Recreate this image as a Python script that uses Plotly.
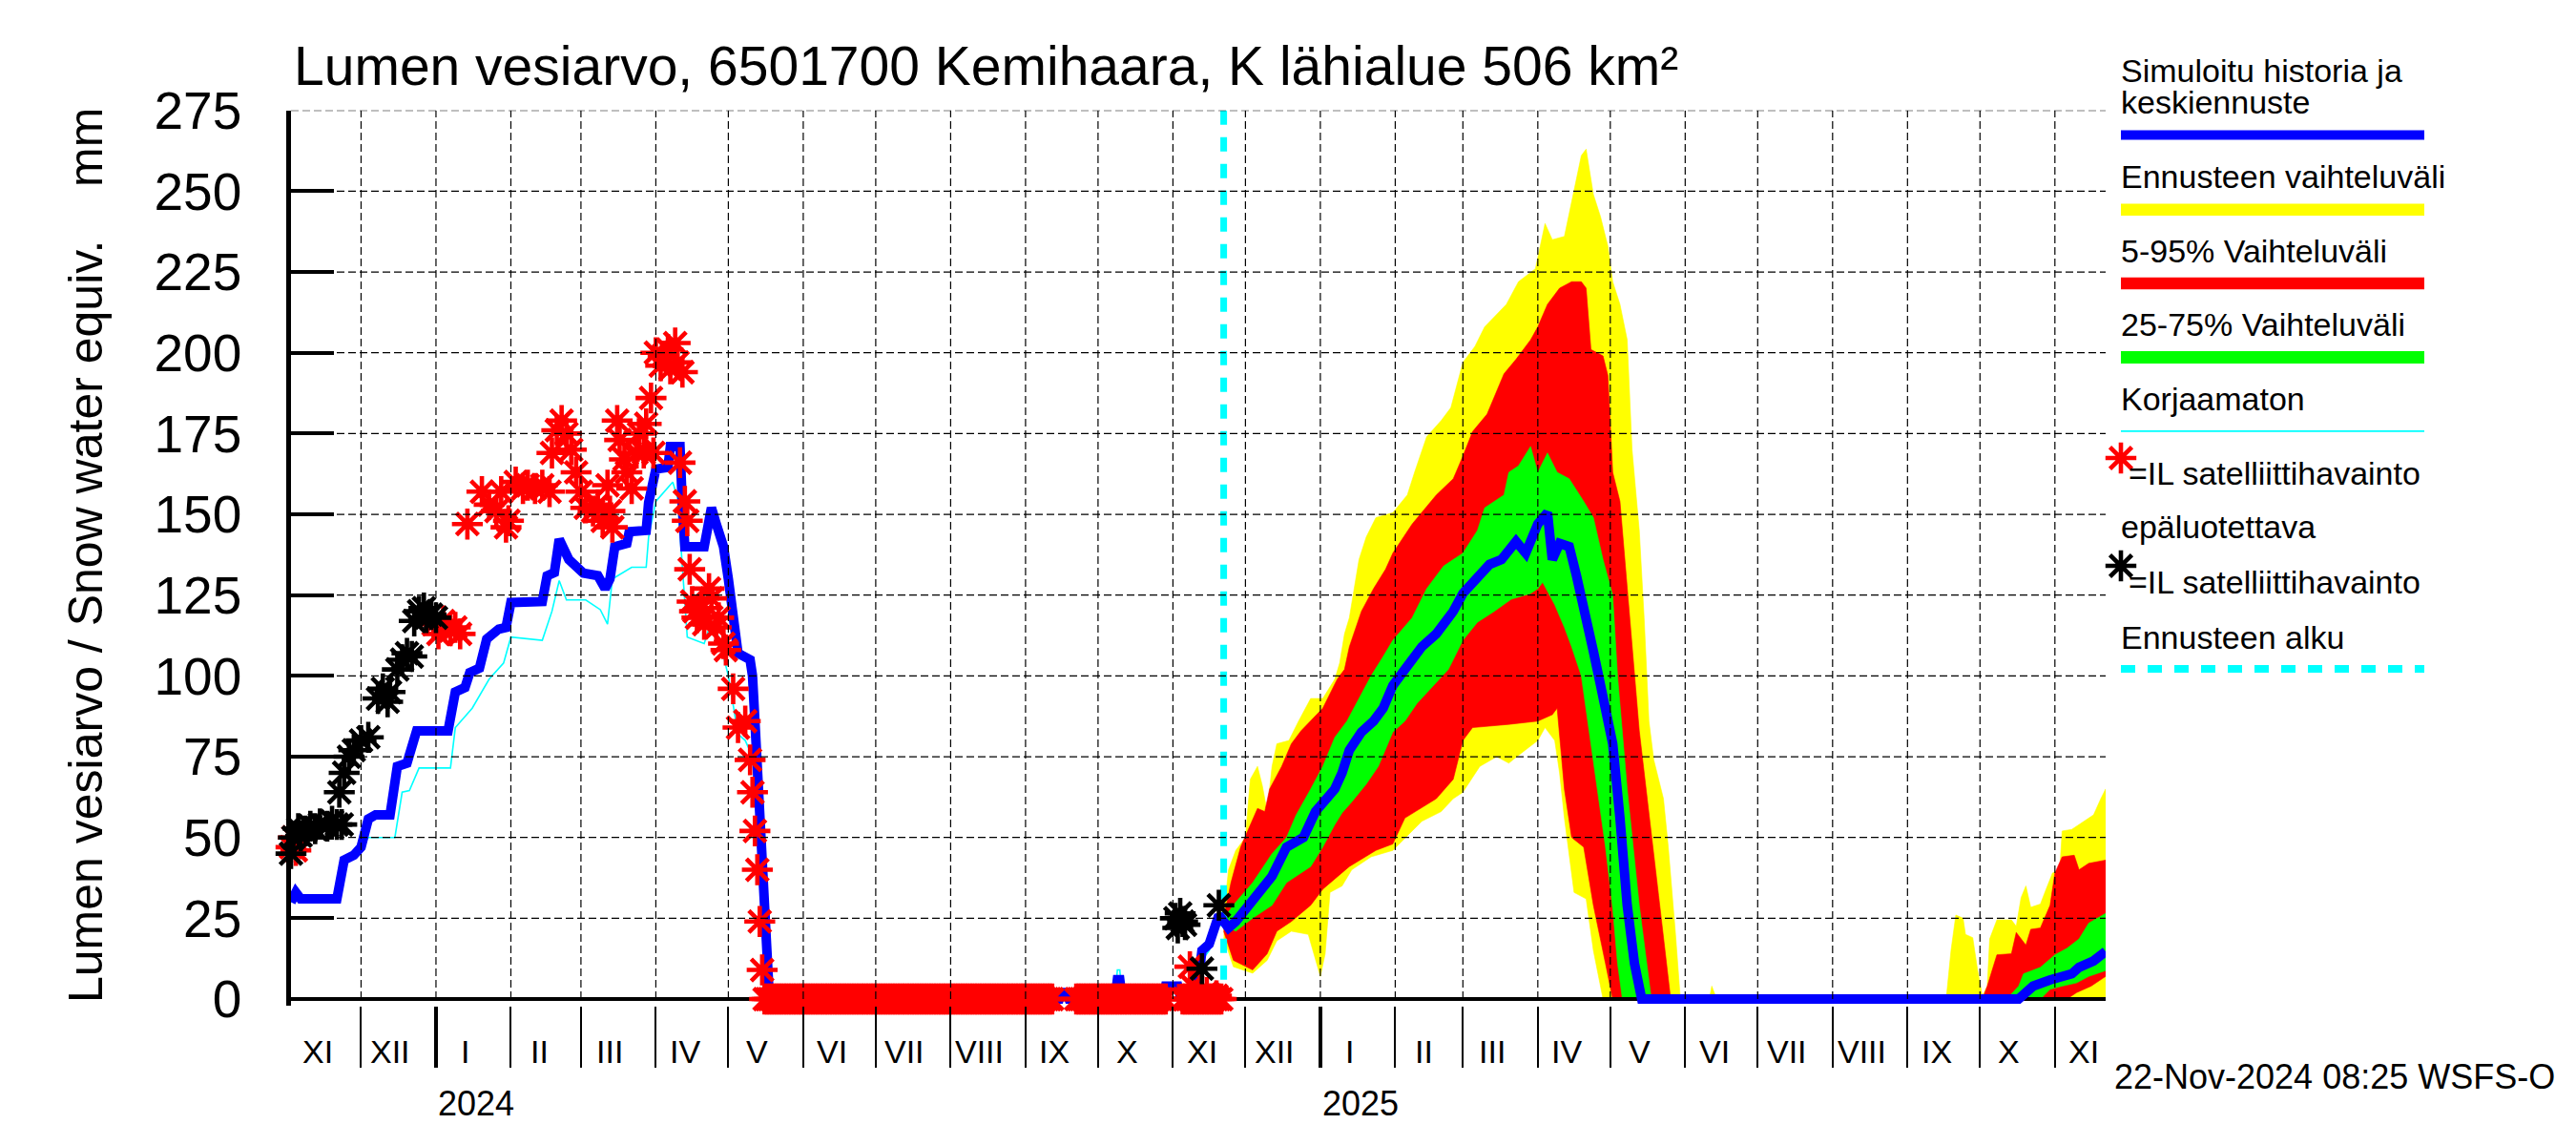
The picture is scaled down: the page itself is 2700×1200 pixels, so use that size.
import plotly.graph_objects as go
import pandas as pd

W, H = 2700, 1200

# ---------------- data ----------------
x_start = "2023-11-02"
x_end = "2025-11-22"
forecast_start = "2024-11-22"
y_ticks = [0, 25, 50, 75, 100, 125, 150, 175, 200, 225, 250, 275]
roman = ["I", "II", "III", "IV", "V", "VI", "VII", "VIII", "IX", "X", "XI", "XII"]
year_labels = ["2024", "2025"]
title_text = "Lumen vesiarvo, 6501700 Kemihaara, K lähialue 506 km²"
ytitle_text = "Lumen vesiarvo / Snow water equiv." + "\u00a0" * 4 + "mm"
stamp_text = "22-Nov-2024 08:25 WSFS-O"

# simulated history (blue)
sim_hist = [
    ("2023-11-02", 30), ("2023-11-04", 33), ("2023-11-06", 31), ("2023-11-21", 31),
    ("2023-11-24", 43), ("2023-11-28", 44.5), ("2023-12-01", 47), ("2023-12-04", 55.7),
    ("2023-12-07", 57), ("2023-12-13", 57), ("2023-12-16", 72), ("2023-12-20", 73),
    ("2023-12-24", 83), ("2024-01-06", 83), ("2024-01-09", 95), ("2024-01-13", 96.4),
    ("2024-01-15", 101), ("2024-01-19", 102.4), ("2024-01-22", 111.4), ("2024-01-27", 114.5),
    ("2024-01-30", 115), ("2024-02-01", 122.7), ("2024-02-14", 123), ("2024-02-16", 131),
    ("2024-02-19", 132), ("2024-02-21", 142.3), ("2024-02-25", 136), ("2024-03-02", 131.8),
    ("2024-03-08", 131), ("2024-03-11", 127), ("2024-03-13", 130), ("2024-03-15", 140),
    ("2024-03-20", 141), ("2024-03-21", 144.6), ("2024-03-28", 145), ("2024-03-29", 153.6),
    ("2024-04-01", 164), ("2024-04-06", 164.5), ("2024-04-07", 171), ("2024-04-11", 171),
    ("2024-04-12", 152), ("2024-04-13", 140), ("2024-04-21", 140), ("2024-04-24", 152),
    ("2024-04-26", 147), ("2024-04-29", 140), ("2024-05-01", 130), ("2024-05-03", 118),
    ("2024-05-05", 107), ("2024-05-10", 105), ("2024-05-11", 100), ("2024-05-12", 86),
    ("2024-05-13", 70), ("2024-05-14", 55), ("2024-05-15", 34), ("2024-05-16", 18),
    ("2024-05-17", 8), ("2024-05-18", 0), ("2024-09-15", 0), ("2024-09-16", 2),
    ("2024-09-18", 2), ("2024-09-19", 0), ("2024-10-08", 0), ("2024-10-09", 6),
    ("2024-10-10", 6), ("2024-10-11", 0), ("2024-10-28", 0), ("2024-10-29", 4),
    ("2024-11-03", 4), ("2024-11-04", 1), ("2024-11-11", 2), ("2024-11-13", 15),
    ("2024-11-16", 17), ("2024-11-18", 22), ("2024-11-20", 26), ("2024-11-22", 24),
]

# uncorrected simulation (thin cyan)
uncorrected = [
    ("2023-11-02", 30), ("2023-11-04", 32), ("2023-11-06", 31), ("2023-11-21", 31),
    ("2023-11-24", 42), ("2023-11-28", 44), ("2023-12-04", 50), ("2023-12-15", 50),
    ("2023-12-18", 64), ("2023-12-21", 64.5), ("2023-12-25", 71.5), ("2024-01-07", 71.5),
    ("2024-01-09", 84), ("2024-01-16", 90), ("2024-01-23", 99), ("2024-01-29", 104),
    ("2024-02-01", 112), ("2024-02-14", 111), ("2024-02-18", 120), ("2024-02-21", 129.5),
    ("2024-02-24", 123.5), ("2024-03-03", 123.5), ("2024-03-09", 120.5), ("2024-03-12", 116),
    ("2024-03-14", 130), ("2024-03-22", 133.6), ("2024-03-28", 133.6), ("2024-03-29", 143),
    ("2024-04-01", 154), ("2024-04-08", 160), ("2024-04-10", 155), ("2024-04-12", 135),
    ("2024-04-14", 112), ("2024-04-21", 110), ("2024-04-24", 117), ("2024-04-27", 112),
    ("2024-05-01", 100), ("2024-05-05", 82), ("2024-05-08", 80), ("2024-05-11", 75),
    ("2024-05-13", 55), ("2024-05-15", 32), ("2024-05-17", 8), ("2024-05-18", 0),
    ("2024-09-15", 0), ("2024-09-16", 1.5), ("2024-09-18", 1.5), ("2024-09-19", 0),
    ("2024-10-08", 0), ("2024-10-09", 9), ("2024-10-10", 9), ("2024-10-11", 0),
    ("2024-10-28", 0), ("2024-10-29", 3), ("2024-11-03", 3), ("2024-11-04", 1),
    ("2024-11-11", 1), ("2024-11-13", 12), ("2024-11-16", 15), ("2024-11-18", 20),
    ("2024-11-20", 24), ("2024-11-22", 23),
]

# forecast mean (blue)
fc_mean = [
    ("2024-11-22", 24), ("2024-11-24", 22), ("2024-11-27", 24), ("2024-12-04", 31),
    ("2024-12-12", 38), ("2024-12-18", 47), ("2024-12-25", 50), ("2024-12-30", 58),
    ("2025-01-02", 61), ("2025-01-07", 65), ("2025-01-10", 70), ("2025-01-13", 77),
    ("2025-01-18", 82.6), ("2025-01-23", 86), ("2025-01-27", 90), ("2025-01-31", 97),
    ("2025-02-05", 102), ("2025-02-12", 109), ("2025-02-18", 113), ("2025-02-25", 120),
    ("2025-03-01", 125.5), ("2025-03-07", 131), ("2025-03-12", 134.5), ("2025-03-17", 136),
    ("2025-03-23", 141.6), ("2025-03-27", 138), ("2025-03-30", 143), ("2025-04-01", 147),
    ("2025-04-05", 150.5), ("2025-04-07", 136), ("2025-04-10", 141), ("2025-04-14", 140),
    ("2025-04-17", 131), ("2025-04-20", 122), ("2025-04-24", 107.6), ("2025-04-27", 97),
    ("2025-04-29", 90), ("2025-05-02", 79), ("2025-05-05", 56), ("2025-05-08", 29),
    ("2025-05-11", 11), ("2025-05-14", 0), ("2025-10-17", 0), ("2025-10-20", 2),
    ("2025-10-23", 4), ("2025-10-30", 5.9), ("2025-11-03", 6.9), ("2025-11-08", 7.8),
    ("2025-11-11", 9.8), ("2025-11-17", 11.8), ("2025-11-22", 14.7),
]

# forecast range: maximum / minimum (yellow)
fc_max = [
    ("2024-11-22", 26), ("2024-11-24", 40), ("2024-11-27", 46), ("2024-12-01", 50),
    ("2024-12-03", 68), ("2024-12-06", 72), ("2024-12-08", 66), ("2024-12-10", 58),
    ("2024-12-12", 72), ("2024-12-14", 79), ("2024-12-19", 80), ("2024-12-23", 86),
    ("2024-12-28", 93), ("2025-01-02", 93), ("2025-01-07", 99), ("2025-01-09", 104),
    ("2025-01-11", 113), ("2025-01-13", 118), ("2025-01-15", 127), ("2025-01-17", 136),
    ("2025-01-20", 143), ("2025-01-24", 149), ("2025-01-31", 150.5), ("2025-02-06", 156),
    ("2025-02-09", 163), ("2025-02-14", 174), ("2025-02-20", 179), ("2025-02-24", 183),
    ("2025-03-01", 197), ("2025-03-06", 202), ("2025-03-10", 208), ("2025-03-14", 211),
    ("2025-03-19", 215), ("2025-03-24", 222), ("2025-03-31", 226), ("2025-04-04", 240),
    ("2025-04-07", 235), ("2025-04-12", 236), ("2025-04-15", 247), ("2025-04-19", 261),
    ("2025-04-21", 263), ("2025-04-24", 249), ("2025-04-27", 242), ("2025-04-30", 233),
    ("2025-05-02", 222), ("2025-05-05", 215), ("2025-05-08", 204), ("2025-05-10", 170),
    ("2025-05-13", 145), ("2025-05-15", 118), ("2025-05-17", 86), ("2025-05-19", 74),
    ("2025-05-23", 62), ("2025-05-25", 47), ("2025-05-28", 20), ("2025-05-30", 0),
    ("2025-06-11", 0), ("2025-06-12", 4), ("2025-06-14", 0), ("2025-09-17", 0),
    ("2025-09-19", 15), ("2025-09-21", 26), ("2025-09-24", 25), ("2025-09-25", 20),
    ("2025-09-28", 19), ("2025-09-30", 9), ("2025-10-02", 1), ("2025-10-04", 4),
    ("2025-10-05", 18.6), ("2025-10-08", 24.5), ("2025-10-14", 24.5), ("2025-10-16", 22.5),
    ("2025-10-18", 31.4), ("2025-10-20", 35), ("2025-10-22", 28.4), ("2025-10-26", 29.4),
    ("2025-10-28", 33.3), ("2025-10-31", 39), ("2025-11-03", 40), ("2025-11-04", 52),
    ("2025-11-08", 52.5), ("2025-11-11", 54), ("2025-11-15", 56), ("2025-11-17", 57),
    ("2025-11-20", 62), ("2025-11-22", 65),
]
fc_min = [
    ("2024-11-22", 19), ("2024-11-26", 10), ("2024-12-04", 8), ("2024-12-10", 12),
    ("2024-12-14", 18), ("2024-12-20", 21), ("2024-12-27", 20), ("2024-12-30", 12),
    ("2025-01-01", 7), ("2025-01-03", 14), ("2025-01-05", 33), ("2025-01-10", 35),
    ("2025-01-14", 40), ("2025-01-22", 44), ("2025-01-31", 46), ("2025-02-12", 55),
    ("2025-02-20", 58), ("2025-02-25", 62), ("2025-03-01", 64), ("2025-03-08", 72),
    ("2025-03-15", 75), ("2025-03-20", 73), ("2025-03-25", 76), ("2025-04-01", 80),
    ("2025-04-04", 84), ("2025-04-08", 80), ("2025-04-10", 70), ("2025-04-12", 56),
    ("2025-04-16", 33), ("2025-04-21", 31), ("2025-04-24", 15), ("2025-04-28", 0),
    ("2025-11-22", 0),
]

# 5-95 % range (red)
fc_p95 = [
    ("2024-11-22", 25), ("2024-11-25", 36), ("2024-11-29", 47), ("2024-12-03", 54),
    ("2024-12-06", 59), ("2024-12-09", 58), ("2024-12-11", 65), ("2024-12-16", 72),
    ("2024-12-20", 79), ("2024-12-24", 83), ("2024-12-28", 86), ("2025-01-02", 90),
    ("2025-01-08", 99), ("2025-01-11", 102), ("2025-01-13", 109), ("2025-01-18", 120),
    ("2025-01-23", 127), ("2025-01-28", 133), ("2025-01-31", 138), ("2025-02-08", 147),
    ("2025-02-18", 156), ("2025-02-25", 161), ("2025-03-01", 168), ("2025-03-05", 175.6),
    ("2025-03-11", 181), ("2025-03-15", 188), ("2025-03-18", 193.5), ("2025-03-23", 198),
    ("2025-03-29", 204), ("2025-04-01", 208), ("2025-04-05", 215), ("2025-04-10", 220),
    ("2025-04-15", 222), ("2025-04-19", 222), ("2025-04-21", 220), ("2025-04-23", 201),
    ("2025-04-28", 199), ("2025-04-30", 193), ("2025-05-02", 163), ("2025-05-05", 154),
    ("2025-05-08", 127), ("2025-05-13", 83), ("2025-05-21", 32), ("2025-05-26", 0),
    ("2025-10-02", 0), ("2025-10-04", 4), ("2025-10-08", 13.7), ("2025-10-14", 14),
    ("2025-10-16", 20.6), ("2025-10-20", 16.7), ("2025-10-22", 21.6), ("2025-10-26", 22),
    ("2025-10-30", 29), ("2025-11-01", 39), ("2025-11-04", 44), ("2025-11-09", 44.5),
    ("2025-11-11", 40), ("2025-11-15", 42), ("2025-11-22", 43),
]
fc_p05 = [
    ("2024-11-22", 21), ("2024-11-26", 12), ("2024-12-04", 9), ("2024-12-10", 14),
    ("2024-12-14", 21), ("2024-12-20", 24), ("2024-12-28", 29), ("2025-01-02", 34),
    ("2025-01-13", 41), ("2025-01-24", 46), ("2025-01-31", 48), ("2025-02-05", 56),
    ("2025-02-18", 62), ("2025-02-25", 68), ("2025-03-01", 80), ("2025-03-05", 84),
    ("2025-03-20", 85), ("2025-04-01", 86), ("2025-04-07", 88), ("2025-04-09", 90),
    ("2025-04-12", 65), ("2025-04-15", 50), ("2025-04-20", 47), ("2025-04-24", 29),
    ("2025-04-29", 11), ("2025-05-02", 0), ("2025-11-06", 0), ("2025-11-10", 2),
    ("2025-11-16", 4), ("2025-11-22", 7),
]

# 25-75 % range (green)
fc_p75 = [
    ("2024-11-22", 25), ("2024-11-27", 30), ("2024-12-04", 36), ("2024-12-12", 45),
    ("2024-12-18", 50), ("2024-12-22", 57), ("2024-12-28", 65), ("2025-01-02", 72),
    ("2025-01-07", 81), ("2025-01-12", 86), ("2025-01-17", 93), ("2025-01-22", 100),
    ("2025-01-27", 106), ("2025-01-31", 111), ("2025-02-08", 118), ("2025-02-14", 127),
    ("2025-02-21", 134), ("2025-03-01", 138), ("2025-03-07", 145), ("2025-03-10", 152),
    ("2025-03-18", 156), ("2025-03-20", 163), ("2025-03-24", 165), ("2025-03-29", 171),
    ("2025-04-01", 163), ("2025-04-05", 169), ("2025-04-09", 163), ("2025-04-14", 161),
    ("2025-04-20", 154), ("2025-04-24", 149), ("2025-04-28", 136), ("2025-05-02", 125),
    ("2025-05-04", 100), ("2025-05-08", 65), ("2025-05-13", 29), ("2025-05-18", 0),
    ("2025-10-12", 0), ("2025-10-17", 4), ("2025-10-19", 7.8), ("2025-10-26", 9.8),
    ("2025-11-01", 13.7), ("2025-11-06", 15.7), ("2025-11-11", 18.6), ("2025-11-15", 23.5),
    ("2025-11-22", 26.5),
]
fc_p25 = [
    ("2024-11-22", 23), ("2024-11-27", 21), ("2024-12-04", 25), ("2024-12-12", 29),
    ("2024-12-18", 36), ("2024-12-28", 41), ("2025-01-02", 47), ("2025-01-07", 54),
    ("2025-01-10", 57.6), ("2025-01-14", 61), ("2025-01-20", 66.5), ("2025-01-25", 72),
    ("2025-01-31", 82.6), ("2025-02-05", 86), ("2025-02-10", 91.5), ("2025-02-17", 97),
    ("2025-02-23", 102), ("2025-03-01", 111), ("2025-03-07", 116.6), ("2025-03-14", 120),
    ("2025-03-21", 123.7), ("2025-03-29", 125.5), ("2025-04-01", 127), ("2025-04-03", 129),
    ("2025-04-08", 122), ("2025-04-12", 115), ("2025-04-15", 109), ("2025-04-19", 100),
    ("2025-04-22", 85), ("2025-04-25", 68), ("2025-04-29", 47), ("2025-05-02", 28),
    ("2025-05-04", 11), ("2025-05-06", 0), ("2025-10-26", 0), ("2025-10-30", 3),
    ("2025-11-04", 4), ("2025-11-10", 5), ("2025-11-15", 7), ("2025-11-22", 8.8),
]

# satellite observations, unreliable (red asterisks)
obs_unreliable = [
    ("2023-11-02", 47), ("2023-11-03", 50), ("2023-11-04", 46),
    ("2023-12-31", 116), ("2024-01-02", 113), ("2024-01-04", 117), ("2024-01-07", 114),
    ("2024-01-09", 115), ("2024-01-11", 113), ("2024-01-14", 147), ("2024-01-20", 157),
    ("2024-01-23", 153), ("2024-01-26", 151), ("2024-01-28", 157), ("2024-01-30", 146),
    ("2024-01-31", 148), ("2024-02-03", 160), ("2024-02-06", 158), ("2024-02-08", 159),
    ("2024-02-11", 158), ("2024-02-14", 159), ("2024-02-17", 157), ("2024-02-18", 169),
    ("2024-02-20", 176), ("2024-02-22", 179), ("2024-02-24", 175), ("2024-02-26", 170),
    ("2024-02-28", 163), ("2024-03-01", 157), ("2024-03-03", 152), ("2024-03-06", 151),
    ("2024-03-08", 153), ("2024-03-10", 148), ("2024-03-12", 159), ("2024-03-13", 151),
    ("2024-03-14", 146), ("2024-03-16", 179), ("2024-03-17", 173), ("2024-03-19", 167),
    ("2024-03-20", 163), ("2024-03-22", 158), ("2024-03-24", 169), ("2024-03-25", 175),
    ("2024-03-27", 169), ("2024-03-28", 178), ("2024-03-30", 186), ("2024-03-31", 169),
    ("2024-04-01", 200), ("2024-04-03", 196), ("2024-04-04", 199), ("2024-04-06", 201),
    ("2024-04-07", 195), ("2024-04-09", 203), ("2024-04-10", 197), ("2024-04-11", 166),
    ("2024-04-12", 194), ("2024-04-13", 154), ("2024-04-14", 148), ("2024-04-15", 133),
    ("2024-04-16", 123), ("2024-04-17", 120), ("2024-04-18", 118), ("2024-04-20", 121),
    ("2024-04-21", 116), ("2024-04-23", 127), ("2024-04-24", 124), ("2024-04-26", 115),
    ("2024-04-27", 118), ("2024-04-29", 110), ("2024-04-30", 108), ("2024-05-03", 96),
    ("2024-05-05", 84), ("2024-05-08", 86), ("2024-05-10", 74), ("2024-05-11", 64),
    ("2024-05-12", 52), ("2024-05-13", 40), ("2024-05-14", 24), ("2024-05-15", 9),
    ("2024-11-08", 10), ("2024-11-09", 4), ("2024-11-15", 2), ("2024-11-19", 1),
]
# periods in which the unreliable observation is 0 every day
obs_unreliable_zero_periods = [
    ("2024-05-16", "2024-09-12"), ("2024-09-22", "2024-10-29"), ("2024-11-05", "2024-11-21"),
]

# satellite observations (black asterisks)
obs_reliable = [
    ("2023-11-02", 45), ("2023-11-03", 50), ("2023-11-05", 52.7), ("2023-11-06", 50.5),
    ("2023-11-08", 52), ("2023-11-10", 53.5), ("2023-11-12", 52.7), ("2023-11-14", 54.2),
    ("2023-11-17", 53.5), ("2023-11-19", 55), ("2023-11-21", 54), ("2023-11-22", 64),
    ("2023-11-23", 54), ("2023-11-24", 70), ("2023-11-26", 75), ("2023-11-28", 77),
    ("2023-12-01", 80), ("2023-12-04", 81), ("2023-12-08", 93), ("2023-12-10", 96),
    ("2023-12-12", 92), ("2023-12-13", 95), ("2023-12-16", 102), ("2023-12-18", 105),
    ("2023-12-20", 107), ("2023-12-22", 106), ("2023-12-23", 117), ("2023-12-25", 120),
    ("2023-12-27", 121), ("2023-12-28", 118), ("2023-12-30", 119), ("2024-01-01", 118),
    ("2024-11-02", 25), ("2024-11-03", 22), ("2024-11-04", 26.5), ("2024-11-05", 24),
    ("2024-11-06", 23), ("2024-11-13", 9.4), ("2024-11-20", 29),
]

legend_texts = [
    "Simuloitu historia ja", "keskiennuste", "Ennusteen vaihteluväli", "5-95% Vaihteluväli",
    "25-75% Vaihteluväli", "Korjaamaton", "=IL satelliittihavainto", "epäluotettava",
    "=IL satelliittihavainto", "Ennusteen alku",
]

# ---------------- styling ----------------
YELLOW, RED, GREEN, BLUE, CYAN = "#FFFF00", "#FF0000", "#00FF00", "#0000FF", "#00FFFF"
SANS = "Liberation Sans, Arial, sans-serif"

# all layout positions below are page pixels; the figure sits 8 px in from the page corner
OFF = 8
PL, PR, PT, PB = 305, 2207, 115.7, 1053.8   # plot rectangle


def fx(px):
    return (px - OFF) / W


def fy(py):
    return 1 - (py - OFF) / H


def unzip(pairs):
    return [p[0] for p in pairs], [p[1] for p in pairs]


fig = go.Figure()


def band(upper, lower, color):
    ud, uv = unzip(upper)
    ld, lv = unzip(lower)
    fig.add_trace(go.Scatter(
        x=ud + ld[::-1], y=uv + lv[::-1], mode="lines", fill="toself",
        fillcolor=color, line=dict(width=0.6, color=color), hoverinfo="skip"))


band(fc_max, fc_min, YELLOW)
band(fc_p95, fc_p05, RED)
band(fc_p75, fc_p25, GREEN)

# x axis base line (above the bands, below the curves)
fig.add_trace(go.Scatter(x=[x_start, x_end], y=[0, 0], mode="lines",
                         line=dict(color="black", width=4), hoverinfo="skip"))

ud, uv = unzip(uncorrected)
fig.add_trace(go.Scatter(x=ud, y=uv, mode="lines", line=dict(color=CYAN, width=1.6)))

fig.add_trace(go.Scatter(x=[forecast_start, forecast_start], y=[y_ticks[-1], 0], mode="lines",
                         line=dict(color=CYAN, width=7, dash="15px,13px")))

sd, sv = unzip(sim_hist)
md, mv = unzip(fc_mean)
fig.add_trace(go.Scatter(x=sd + md[1:], y=sv + mv[1:], mode="lines",
                         line=dict(color=BLUE, width=10)))

rd, rv = unzip(obs_unreliable)
for a, b in obs_unreliable_zero_periods:
    for d in pd.date_range(a, b, freq="D"):
        rd.append(d.strftime("%Y-%m-%d"))
        rv.append(0)
star = dict(symbol="asterisk-open", size=27)
fig.add_trace(go.Scatter(x=rd, y=rv, mode="markers", cliponaxis=False,
                         marker=dict(**star, color=RED, line=dict(color=RED, width=4.6))))
bd, bv = unzip(obs_reliable)
fig.add_trace(go.Scatter(x=bd, y=bv, mode="markers", cliponaxis=False,
                         marker=dict(**star, color="black", line=dict(color="black", width=4.6))))

# dummy trace so the overlay axis (year ticks) is drawn
fig.add_trace(go.Scatter(x=[x_start], y=[-100], xaxis="x2", mode="markers",
                         marker=dict(opacity=0), hoverinfo="skip"))

# legend asterisks on a page-pixel axis pair
fig.add_trace(go.Scatter(x=[2223, 2223], y=[480, 593], xaxis="x3", yaxis="y3", mode="markers",
                         cliponaxis=False,
                         marker=dict(**star, color=[RED, "black"],
                                     line=dict(color=[RED, "black"], width=4.6))))

month_starts = [d.strftime("%Y-%m-%d") for d in pd.date_range("2023-12-01", "2025-11-01", freq="MS")]
year_starts = [d for d in month_starts if d.endswith("-01-01")]
label_months = pd.date_range("2023-11-01", "2025-11-01", freq="MS")

shapes = []
grid = dict(color="black", width=1.2, dash="8px,4px")
for d in month_starts:
    shapes.append(dict(type="line", xref="x", yref="y", x0=d, x1=d, y0=0, y1=y_ticks[-1],
                       line=grid, layer="above"))
for v in y_ticks[1:]:
    shapes.append(dict(type="line", xref="x", yref="y", x0=x_start, x1=x_end, y0=v, y1=v,
                       line=grid, layer="above"))

# legend line samples
LX0, LX1 = fx(2223), fx(2541)
for py, col, wd, dash in [(141.6, BLUE, 10, None), (219.7, YELLOW, 12.5, None),
                          (297, RED, 12.5, None), (374.6, GREEN, 13, None),
                          (451.9, CYAN, 1.6, None), (701, CYAN, 8, "15px,13px")]:
    ln = dict(color=col, width=wd)
    if dash:
        ln["dash"] = dash
    shapes.append(dict(type="line", xref="paper", yref="paper", x0=LX0, x1=LX1,
                       y0=fy(py), y1=fy(py), line=ln))

ann = []
ann.append(dict(text=title_text, xref="paper", yref="paper", x=fx(306), y=fy(69),
                xanchor="left", yanchor="middle", showarrow=False,
                font=dict(family=SANS, size=57, color="black")))
ann.append(dict(text=ytitle_text, xref="paper", yref="paper", x=fx(90), y=fy(582),
                xanchor="center", yanchor="middle", textangle=-90, showarrow=False,
                font=dict(family=SANS, size=50, color="black")))
for d in label_months:
    ann.append(dict(text=roman[d.month - 1], xref="x", yref="paper",
                    x=(d + pd.Timedelta(days=12)).strftime("%Y-%m-%d"), y=fy(1102),
                    xanchor="center", yanchor="middle", showarrow=False,
                    font=dict(family=SANS, size=34, color="black")))
for d, t in zip(year_starts, year_labels):
    ann.append(dict(text=t, xref="x", yref="paper", x=d, y=fy(1156), xanchor="left",
                    yanchor="middle", showarrow=False,
                    font=dict(family=SANS, size=36, color="black")))
ann.append(dict(text=stamp_text, xref="paper", yref="paper", x=fx(2680), y=fy(1128),
                xanchor="right", yanchor="middle", showarrow=False,
                font=dict(family=SANS, size=36, color="black")))
legend_pos = [(2221, 74), (2221, 107), (2221, 185), (2221, 262.6), (2221, 340), (2221, 417.6),
              (2229, 495.7), (2221, 551.5), (2229, 609.5), (2221, 667.6)]
for t, (px, py) in zip(legend_texts, legend_pos):
    ann.append(dict(text=t, xref="paper", yref="paper", x=fx(px), y=fy(py), xanchor="left",
                    yanchor="middle", showarrow=False,
                    font=dict(family=SANS, size=34, color="black")))

fig.update_layout(
    width=W, height=H, margin=dict(l=0, r=0, t=0, b=0, autoexpand=False),
    paper_bgcolor="white", plot_bgcolor="rgba(0,0,0,0)", showlegend=False,
    xaxis=dict(domain=[fx(PL), fx(PR)], type="date", range=[x_start, x_end],
               tickvals=month_starts, ticks="outside", ticklen=64, tickwidth=1.5,
               tickcolor="black", showticklabels=False, showgrid=False, zeroline=False,
               showline=False),
    xaxis2=dict(type="date", range=[x_start, x_end], overlaying="x", anchor="y", side="bottom",
                tickvals=year_starts, ticks="outside", ticklen=64, tickwidth=3.5,
                tickcolor="black", showticklabels=False, showgrid=False, zeroline=False,
                showline=False),
    yaxis=dict(domain=[fy(PB), fy(PT)], range=[-2, 275], tickvals=y_ticks, ticks="inside",
               ticklen=45, tickwidth=3.5, tickcolor="black", showline=True, linewidth=4.5,
               linecolor="black", showgrid=False, zeroline=False, ticklabelstandoff=36,
               tickfont=dict(family=SANS, size=55, color="black")),
    xaxis3=dict(domain=[0, 1], range=[OFF, W + OFF], anchor="y3", visible=False,
                fixedrange=True),
    yaxis3=dict(domain=[0, 1], range=[H + OFF, OFF], anchor="x3", visible=False,
                fixedrange=True),
    shapes=shapes, annotations=ann,
)

fig.write_html("out.html")
